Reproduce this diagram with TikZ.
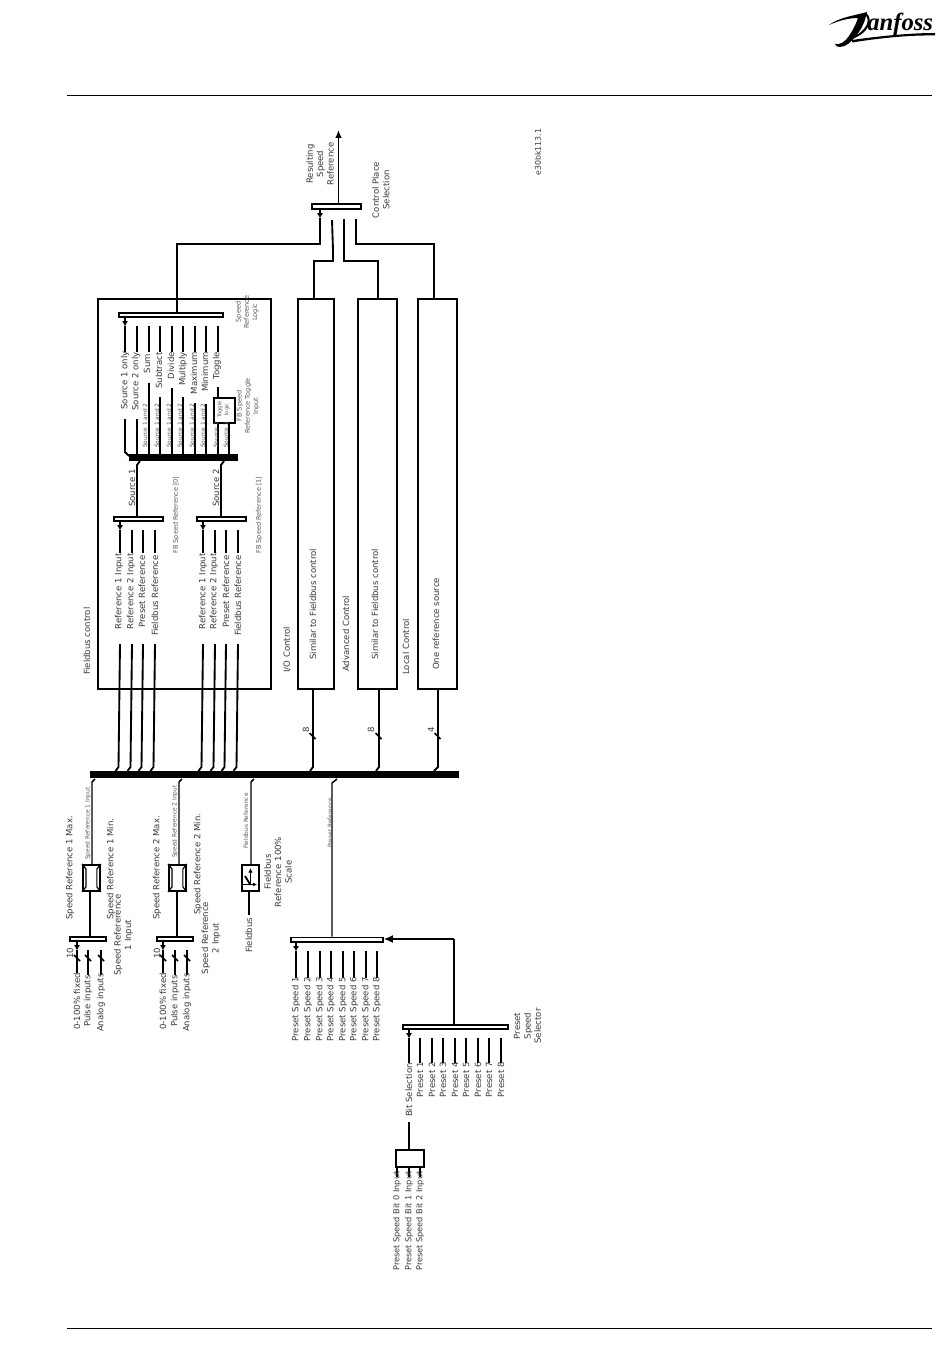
\documentclass[tikz,border=0pt]{standalone}
\usepackage{fontspec}
\setmainfont{DejaVu Sans}
\newfontfamily\logofont{Liberation Serif}
\usetikzlibrary{arrows.meta,calc}
\definecolor{txt}{gray}{0.22}
\definecolor{txtsm}{gray}{0.35}
\tikzset{
  wire/.style={line width=1.4pt,black,line join=miter},
  thinwire/.style={line width=1.1pt,black,line join=miter},
  arrowdown/.style={line width=1.3pt,-{Latex[length=4pt,width=4.5pt]}},
  bar/.style={draw,line width=1.2pt,fill=white},
  bus/.style={fill=black,draw=none},
  frame/.style={draw,line width=1.4pt},
  lab/.style={rotate=90,inner sep=0pt,text=txt,font=\fontsize{6.4pt}{7.8pt}\selectfont,align=center},
  labl/.style={lab,anchor=west},
  labr/.style={lab,anchor=east},
  sm/.style={lab,text=txtsm,font=\fontsize{4.4pt}{5.6pt}\selectfont},
  smm/.style={lab,text=txtsm,font=\fontsize{4.9pt}{6.2pt}\selectfont},
}
\newcommand{\stub}[6]{% name x1 y1 x2 y2 style
  \coordinate (#1a) at (#2,#3); \coordinate (#1b) at (#4,#5);
  \draw[#6] (#1a) -- (#1b);}
\newcommand{\tick}[3]{% name x y
  \coordinate (#1p) at (#2-3,#3-3); \coordinate (#1q) at (#2+3,#3+3);
  \draw[line width=1.2pt] (#1p) -- (#1q);}
\begin{document}
\begin{tikzpicture}[x=0.75pt,y=-0.75pt]
\useasboundingbox (0,0) rectangle (950,1369);
% header / footer
\coordinate (hl) at (67,95); \coordinate (hr) at (932,95);
\coordinate (fl) at (67,1328); \coordinate (fr) at (932,1328);
\draw[line width=0.6pt] (hl) -- (hr);
\draw[line width=0.6pt] (fl) -- (fr);
% logo
\fill (829,25) .. controls (838,18) and (852,16) .. (867,12) -- (866,16)
  .. controls (864,26) and (856,38) .. (848,44) .. controls (842,48) and (836,48) .. (835,44)
  .. controls (840,45) and (845,42) .. (849,36) .. controls (853,30) and (856,24) .. (858,18)
  .. controls (848,18) and (838,21) .. (829,25) -- cycle;
\draw[line width=1.5pt] (866,14) .. controls (872,20) and (868,32) .. (852,38);
\fill (852,40) .. controls (880,36) and (910,33) .. (935,33) -- (935,35.5) .. controls (910,35) and (880,38) .. (852,42.5) -- cycle;
\node[inner sep=0pt,anchor=base west,font=\logofont\bfseries\itshape\fontsize{18.5pt}{19pt}\selectfont] (logo) at (867,31) {anfoss};
% ===== top
\node[bar,minimum width=36.75pt,minimum height=3.4pt,inner sep=0pt] (cps) at (336.5,206.5) {};
\coordinate (res) at (338.5,130);
\draw[wire,-{Latex[length=6pt,width=5pt]}] (cps.north -| res) -- (res);
\coordinate (c1a) at (320,209); \coordinate (c1z) at (320,218.5);
\coordinate (c1s) at (320,218); \coordinate (c1) at (320,244);
\coordinate (fbt) at (177,312);
\draw[arrowdown] (c1a) -- (c1z);
\draw[wire] (fbt) |- (c1) -- (c1s);
\coordinate (c2) at (332,220); \coordinate (c2b) at (333,250); \coordinate (c2c) at (333,261);
\coordinate (c3) at (344,219); \coordinate (c3c) at (344,261);
\coordinate (c4) at (356,219); \coordinate (c4c) at (356,244);
\node[frame,minimum width=27pt,minimum height=292.5pt,inner sep=0pt,anchor=north west] (io) at (297,298) {};
\node[frame,minimum width=29.25pt,minimum height=292.5pt,inner sep=0pt,anchor=north west] (adv) at (357,298) {};
\node[frame,minimum width=29.25pt,minimum height=292.5pt,inner sep=0pt,anchor=north west] (loc) at (417,298) {};
\node[frame,minimum width=129.75pt,minimum height=292.5pt,inner sep=0pt,anchor=north west] (fb) at (97,298) {};
\coordinate (iot) at (314,298); \coordinate (advt) at (378,298); \coordinate (loct) at (434,298);
\draw[wire] (c2) -- (c2b) -- (c2c) -| (iot);
\draw[wire] (c3) -- (c3c) -| (advt);
\draw[wire] (c4) -- (c4c) -| (loct);
\node[lab,anchor=center] (t-res) at (320,164) {Resulting\\Speed\\Reference};
\node[lab,anchor=center] (t-cps) at (381,190) {Control Place\\Selection};
\node[lab,anchor=center,font=\fontsize{5.9pt}{7pt}\selectfont] (t-code) at (538,152) {e30bk113.1};
% ===== logic selector
\node[bar,minimum width=78pt,minimum height=3.2pt,inner sep=0pt,anchor=north west] (sel) at (118,312) {};
\foreach \n/\x in {a/125,b/137,c/149,d/160,e/172,f/183,g/195,h/206,i/218}{
  \coordinate (u\n) at (\x,326); \coordinate (v\n) at (\x,352);
  \draw[wire] (u\n) -- (v\n);
}
\coordinate (ua0) at (125,317); \coordinate (ua1) at (125,326.5); \draw[arrowdown] (ua0) -- (ua1);
\node[labr] (l1) at (125,351) {Source 1 only};
\node[labr] (l2) at (136,352) {Source 2 only};
\node[labr] (l3) at (147,354) {Sum};
\node[labr] (l4) at (159,352) {Subtract};
\node[labr] (l5) at (171,352) {Divide};
\node[labr] (l6) at (183,352) {Multiply};
\node[labr] (l7) at (194,352) {Maximum};
\node[labr] (l8) at (205,352) {Minimum};
\node[labr] (l9) at (217,352) {Toggle};
\node[smm,anchor=center] (t-logic) at (247,312) {Speed\\Reference\\Logic};
% logic bus
\node[bus,minimum width=81.75pt,minimum height=5.25pt,inner sep=0pt,anchor=north west] (lbus) at (129,454) {};
\coordinate (la1) at (125,419); \coordinate (la2) at (125,452);\coordinate (la3) at (129,456);
\draw[wire] (la1) -- (la2) -- (la3);
\stub{lb}{137}{419}{137}{455}{wire}
\stub{lc}{149}{383}{149}{455}{wire}
\stub{ld}{160}{397}{160}{455}{wire}
\stub{le}{172}{388}{172}{455}{wire}
\stub{lf}{183}{397}{183}{455}{wire}
\stub{lg}{195}{403}{195}{455}{wire}
\stub{lh}{206}{404}{206}{455}{wire}
\node[frame,fill=white,minimum width=15.75pt,minimum height=18.75pt,inner sep=0pt,anchor=north west] (tog) at (213,397) {};
\coordinate (ti) at (218,387); \draw[wire] (ti) -- (ti |- tog.north);
\stub{lj}{218}{422}{218}{455}{wire}
\stub{lk}{229}{422}{229}{455}{wire}
\node[lab,anchor=center,text=txtsm,font=\fontsize{3.9pt}{5.2pt}\selectfont] (t-tog) at (223.5,409.5) {Toggle\\logic};
\foreach \n/\x in {a/145,b/157,c/169,d/180,e/192,f/203}{
  \node[sm,anchor=west] (sa\n) at (\x,448) {Source 1 and 2};
}
\node[sm,anchor=west] (sa1) at (216,448) {Source 1};
\node[sm,anchor=west] (sa2) at (226,448) {Source 2};
\node[smm,anchor=center] (t-fbt) at (248,406) {FB Speed\\Reference Toggle\\Input};
% source selectors
\node[bar,minimum width=36.75pt,minimum height=3.3pt,inner sep=0pt,anchor=north west] (s1) at (113,516) {};
\node[bar,minimum width=36.75pt,minimum height=3.3pt,inner sep=0pt,anchor=north west] (s2) at (196,516) {};
\coordinate (s1t) at (140,461); \coordinate (s1u) at (137,465); \coordinate (s1d) at (137,516);
\coordinate (s2t) at (224,461); \coordinate (s2u) at (221,465); \coordinate (s2d) at (221,516);
\draw[wire] (s1t) -- (s1u) -- (s1d);
\draw[wire] (s2t) -- (s2u) -- (s2d);
\node[labl] (t-s1) at (132,507) {Source 1};
\node[labl] (t-s2) at (216,507) {Source 2};
\node[smm,anchor=center] (t-fb0) at (176,515) {FB Speed Reference [0]};
\node[smm,anchor=center] (t-fb1) at (259,515) {FB Speed Reference [1]};
\node[lab,anchor=west] (t-fbc) at (87,675) {Fieldbus control};
% input wires in fieldbus box
\foreach \n/\x/\k in {a/120/1,b/132/2,c/143/3,d/155/4,e/203/1,f/215/2,g/226/3,h/238/4}{
  \coordinate (p\n) at (\x,530); \coordinate (q\n) at (\x,553);
  \draw[wire] (p\n) -- (q\n);
  \ifnum\k=1
    \coordinate (r\n) at (\x,521.5); \coordinate (s\n) at (\x,530.5); \draw[arrowdown] (r\n) -- (s\n);
  \fi
  \coordinate (m\n) at (\x,644); \coordinate (n\n) at ({\x-1.5},767); \coordinate (o\n) at ({\x-4.5},771);
  \draw[wire] (m\n) -- (n\n) -- (o\n);
}
\foreach \n/\x in {a/119,e/203}{\node[labr] (ref1\n) at (\x,553) {Reference 1 Input};}
\foreach \n/\x in {b/131,f/214}{\node[labr] (ref2\n) at (\x,553) {Reference 2 Input};}
\foreach \n/\x in {c/142,g/226}{\node[labr] (ref3\n) at (\x,555) {Preset Reference};}
\foreach \n/\x in {d/155,h/238}{\node[labr] (ref4\n) at (\x,555) {Fieldbus Reference};}
% other control
\node[labl] (t-io) at (287,673) {I/O Control};
\node[labl] (t-adv) at (346,672) {Advanced Control};
\node[labl] (t-loc) at (406,675) {Local Control};
\node[labl] (t-s3) at (313,660) {Similar to Fieldbus control};
\node[labl] (t-s4) at (375,660) {Similar to Fieldbus control};
\node[labl] (t-one) at (436,670) {One reference source};
% main bus
\node[bus,minimum width=276.75pt,minimum height=5.25pt,inner sep=0pt,anchor=north west] (mbus) at (90,771) {};
\foreach \n/\x/\dd in {u/313/3,v/379/3,w/438/4}{
  \coordinate (\n1) at (\x,767); \coordinate (\n2) at ({\x-\dd},771);
}
\draw[wire] (io.south -| u1) -- (u1) -- (u2);
\draw[wire] (adv.south -| v1) -- (v1) -- (v2);
\draw[wire] (loc.south -| w1) -- (w1) -- (w2);
\tick{ku}{312.5}{736}\tick{kv}{378.5}{736}\tick{kw}{437.5}{736}
\node[lab,anchor=center] (n8a) at (306,730) {8};
\node[lab,anchor=center] (n8b) at (371,730) {8};
\node[lab,anchor=center] (n4) at (431,730) {4};
% speed ref 1 and 2
\foreach \n/\bx/\cx/\lx/\blx/\ia/\ib/\ic in {A/82/92/90/69/77/88/101,B/168/179/177/156/163/175/187}{
  \node[frame,fill=white,minimum width=12.75pt,minimum height=19.5pt,inner sep=0pt,anchor=north west] (box\n) at (\bx,864) {};
  \coordinate (top\n) at ({\cx+3},779); \coordinate (top2\n) at (\cx,782); \coordinate (bt\n) at (\cx,864);
  \draw[thinwire] (top\n) -- (top2\n) -- (bt\n);
  \draw[line width=0.9pt] (box\n.north west) -- ($(box\n.north west)+(4,5)$) -- ($(box\n.south west)+(4,-5)$) -- (box\n.south west);
  \draw[line width=0.9pt] (box\n.north east) -- ($(box\n.north east)+(-4,5)$) -- ($(box\n.south east)+(-4,-5)$) -- (box\n.south east);
  \node[bar,minimum width=27pt,minimum height=3.3pt,inner sep=0pt,anchor=north west] (bar\n) at (\blx,936) {};
  \coordinate (d\n) at (\lx,890); \coordinate (e\n) at (\lx,936);
  \draw[wire] (d\n) -- (e\n);
  \coordinate (i1\n) at (\ia,950); \coordinate (i1e\n) at (\ia,973);
  \coordinate (i1h\n) at (\ia,941.5); \coordinate (i1t\n) at (\ia,950.5);
  \draw[arrowdown] (i1h\n) -- (i1t\n);
  \draw[wire] (i1\n) -- (i1e\n);
  \coordinate (i2\n) at (\ib,950); \coordinate (i2e\n) at (\ib,975);
  \coordinate (i3\n) at (\ic,950); \coordinate (i3e\n) at (\ic,975);
  \draw[wire] (i2\n) -- (i2e\n); \draw[wire] (i3\n) -- (i3e\n);
  \tick{ka\n}{\ia}{958}\tick{kb\n}{\ib}{958}\tick{kc\n}{\ic}{958}
  \node[labr] (pa\n) at (\ia,973) {0-100\% fixed};
  \node[labr] (pb\n) at (\ib,975) {Pulse inputs};
  \node[labr] (pc\n) at (\ic,973) {Analog inputs};
}
\node[lab,anchor=center] (t10a) at (70,953) {10};
\node[lab,anchor=center] (t10b) at (157,953) {10};
\node[labl] (mx1) at (70,920) {Speed Reference 1 Max.};
\node[labl] (mn1) at (111,920) {Speed Reference 1 Min.};
\node[labl] (mx2) at (157,920) {Speed Reference 2 Max.};
\node[labl] (mn2) at (198,915) {Speed Reference 2 Min.};
\node[sm,anchor=west] (sr1) at (88,860) {Speed Reference 1 Input};
\node[sm,anchor=west] (sr2) at (175,858) {Speed Reference 2 Input};
\node[lab,anchor=center] (in1) at (123.5,935) {Speed Refererence\\1 Input};
\node[lab,anchor=center] (in2) at (211,938) {Speed Reference\\2 Input};
% fieldbus scale
\node[frame,fill=white,minimum width=12.75pt,minimum height=19.5pt,inner sep=0pt,anchor=north west] (boxF) at (241,864) {};
\coordinate (ft) at (254,779); \coordinate (ft2) at (251,782); \coordinate (ft3) at (251,864);
\draw[thinwire] (ft) -- (ft2) -- (ft3);
\coordinate (fm) at (249,890); \coordinate (fn) at (249,915);
\draw[wire] (fm) -- (fn);
\coordinate (fx0) at (250.5,885); \coordinate (fx1) at (250.5,868);
\coordinate (fy0) at (243,884.5); \coordinate (fy1) at (257,884.5);
\coordinate (fz0) at (245,876);
\draw[line width=1pt,-{Latex[length=3.5pt,width=3.5pt]}] (fx0) -- (fx1);
\draw[line width=1pt,-{Latex[length=3pt,width=3pt]}] (fy0) -- (fy1);
\draw[line width=1.4pt] (fz0) -- (fx0);
\node[labl] (t-fbus) at (249,953) {Fieldbus};
\node[sm,anchor=west] (t-fbr) at (246,849) {Fieldbus Reference};
\node[lab,anchor=center] (t-sca) at (278,872) {Fieldbus\\Reference 100\%\\Scale};
% preset speed
\node[bar,minimum width=69pt,minimum height=3.6pt,inner sep=0pt,anchor=north west] (pbar) at (290,936.5) {};
\coordinate (pt) at (337,779); \coordinate (pt2) at (332,783); \coordinate (pt3) at (332,936.5);
\draw[thinwire] (pt) -- (pt2) -- (pt3);
\node[sm,anchor=west] (t-pr) at (330,848) {Preset Reference};
\foreach \k/\x in {1/296,2/308,3/320,4/331,5/343,6/354,7/366,8/377}{
  \coordinate (ps\k) at (\x,978);
  \coordinate (pa\k) at (\x,951); \draw[wire] (ps\k) -- (pa\k);
  \ifnum\k=1 \coordinate (pu\k) at (\x,942.5); \coordinate (pv\k) at (\x,951.5); \draw[arrowdown] (pu\k) -- (pv\k); \fi
  \node[labr] (psl\k) at (\x,977) {Preset Speed \k};
}
\node[bar,minimum width=78.75pt,minimum height=3.3pt,inner sep=0pt,anchor=north west] (qbar) at (402,1024) {};
\coordinate (q1) at (454,1024); \coordinate (q2) at (454,939);
\draw[wire] (q1) -- (q2);
\draw[wire,-{Latex[length=7pt,width=6pt]}] (q2) -- (pbar.east |- q2);
\foreach \k/\x in {1/420,2/432,3/443,4/455,5/466,6/478,7/489,8/501}{
  \coordinate (qa\k) at (\x,1038); \coordinate (qb\k) at (\x,1063);
  \draw[wire] (qa\k) -- (qb\k);
  \node[labr] (qsl\k) at (\x,1062) {Preset \k};
}
\coordinate (qa0) at (409,1038); \coordinate (qb0) at (409,1063);
\coordinate (qc0) at (409,1029.5); \coordinate (qd0) at (409,1038.5);
\draw[wire] (qa0) -- (qb0);
\draw[arrowdown] (qc0) -- (qd0);
\node[labr] (t-bit) at (409,1063) {Bit Selection};
\node[lab,anchor=center] (t-pss) at (527.5,1026) {Preset\\Speed\\Selector};
% bit box
\node[frame,minimum width=21pt,minimum height=12.75pt,inner sep=0pt,anchor=north west] (bit) at (395,1149) {};
\coordinate (bt) at (409,1122); \draw[wire] (bt) -- (bt |- bit.north);
\foreach \k/\bn/\x in {0/0/397,1/1/409,2/2/420}{
  \coordinate (bi\k) at (\x,1166); \coordinate (bj\k) at (\x,1177);
  \draw[line width=1.7pt] (bi\k) -- (bj\k);
  \node[labl,font=\fontsize{6.15pt}{7pt}\selectfont] (bl\k) at (\x,1271) {Preset Speed Bit \bn{} Input};
}
\end{tikzpicture}
\end{document}
